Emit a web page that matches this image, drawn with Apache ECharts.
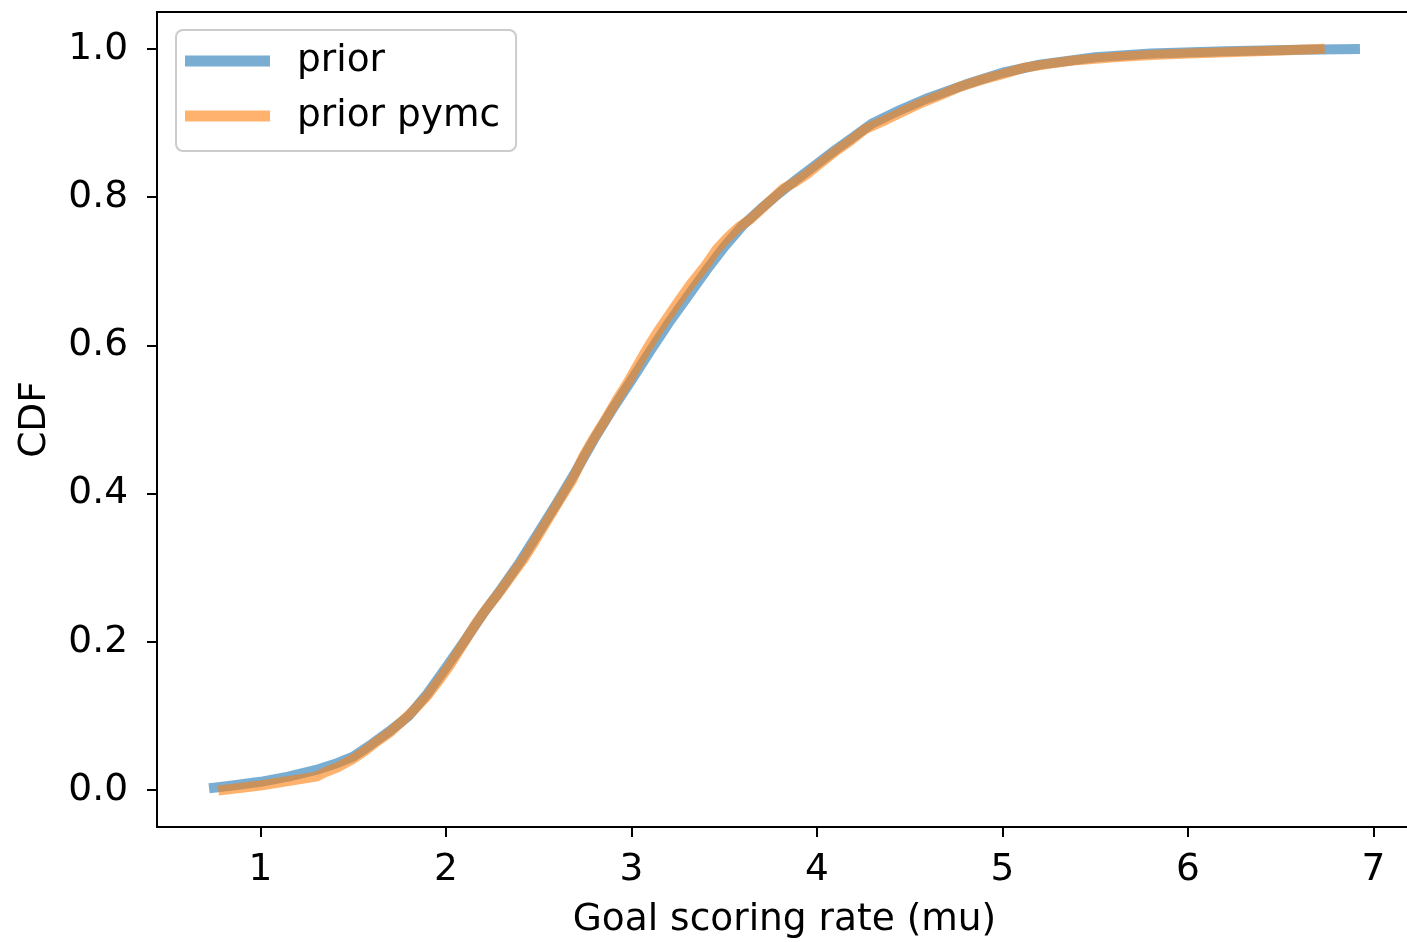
<!DOCTYPE html>
<html>
<head>
<meta charset="utf-8">
<script src="https://cdn.jsdelivr.net/npm/echarts@6/dist/echarts.min.js"></script>
<style>
  html, body { margin: 0; padding: 0; background: #ffffff; }
  #chart { width: 1407px; height: 942px; }
</style>
</head>
<body>
<div id="chart"></div>
<script>
// CDF of the goal scoring rate: analytic prior vs. PyMC prior samples
const priorX = [0.75, 0.85, 1.0, 1.15, 1.3, 1.4, 1.5, 1.6, 1.7, 1.8, 1.9, 2.0, 2.1, 2.2, 2.3, 2.4, 2.5, 2.6, 2.7, 2.8, 2.9, 3.0, 3.1, 3.2, 3.3, 3.4, 3.5, 3.6, 3.7, 3.8, 3.9, 4.0, 4.1, 4.2, 4.3, 4.45, 4.6, 4.8, 5.0, 5.2, 5.5, 5.8, 6.2, 6.6, 6.9];
const priorCdf = [0.003, 0.006, 0.011, 0.018, 0.027, 0.035, 0.045, 0.062, 0.080, 0.100, 0.130, 0.165, 0.201, 0.238, 0.272, 0.308, 0.348, 0.388, 0.430, 0.474, 0.515, 0.553, 0.592, 0.630, 0.665, 0.700, 0.733, 0.762, 0.785, 0.806, 0.826, 0.845, 0.864, 0.882, 0.900, 0.918, 0.934, 0.952, 0.968, 0.979, 0.989, 0.994, 0.997, 0.999, 1.000];

const pymcX = [0.80, 0.9, 1.0, 1.1, 1.2, 1.3, 1.35, 1.42, 1.5, 1.56, 1.62, 1.7, 1.76, 1.82, 1.9, 1.96, 2.02, 2.1, 2.16, 2.22, 2.28, 2.35, 2.42, 2.48, 2.55, 2.62, 2.68, 2.74, 2.8, 2.86, 2.92, 2.98, 3.03, 3.08, 3.14, 3.2, 3.26, 3.32, 3.4, 3.46, 3.52, 3.58, 3.64, 3.7, 3.76, 3.82, 3.88, 3.95, 4.02, 4.1, 4.18, 4.26, 4.35, 4.45, 4.55, 4.65, 4.76, 4.88, 5.0, 5.12, 5.25, 5.4, 5.6, 5.8, 6.0, 6.25, 6.5, 6.71];
const pymcCdf = [0.000, 0.003, 0.006, 0.010, 0.014, 0.018, 0.024, 0.031, 0.042, 0.052, 0.064, 0.078, 0.092, 0.106, 0.127, 0.147, 0.168, 0.200, 0.224, 0.245, 0.264, 0.288, 0.312, 0.336, 0.365, 0.394, 0.418, 0.450, 0.476, 0.500, 0.526, 0.550, 0.572, 0.594, 0.618, 0.640, 0.662, 0.683, 0.708, 0.730, 0.746, 0.760, 0.770, 0.784, 0.798, 0.812, 0.820, 0.832, 0.846, 0.862, 0.876, 0.892, 0.902, 0.914, 0.926, 0.936, 0.948, 0.958, 0.966, 0.975, 0.980, 0.985, 0.989, 0.992, 0.994, 0.996, 0.998, 1.000];

const xTicks = [1, 2, 3, 4, 5, 6, 7];
const yTicks = [0, 0.2, 0.4, 0.6, 0.8, 1.0];

const seriesNames = ['prior', 'prior pymc'];
const blue = 'rgba(31,119,180,0.6)';
const orange = 'rgba(255,127,14,0.6)';

const FONT = 'DejaVu Sans';
const FS = 37.5;

const zip = (xs, ys) => xs.map((x, i) => [x, ys[i]]);

const chart = echarts.init(document.getElementById('chart'), null, { renderer: 'canvas' });
chart.setOption({
  animation: false,
  backgroundColor: '#ffffff',
  grid: {
    left: 157, top: 12, width: 1255, height: 815,
    show: true, borderColor: '#000000', borderWidth: 2,
    backgroundColor: 'transparent',
    containLabel: false,
    outerBoundsMode: 'none'
  },
  legend: {
    orient: 'vertical',
    left: 176, top: 30,
    icon: 'rect',
    itemWidth: 85, itemHeight: 11,
    itemGap: 17,
    padding: [12, 16, 16, 9],
    backgroundColor: 'rgba(255,255,255,0.8)',
    borderColor: '#cccccc', borderWidth: 2, borderRadius: 7,
    textStyle: { fontFamily: FONT, fontSize: FS, color: '#000000', padding: [0, 0, 0, 22] },
    data: seriesNames
  },
  xAxis: {
    type: 'value',
    min: 0.4425, max: 7.2075,
    name: 'Goal scoring rate (mu)',
    nameLocation: 'middle',
    nameGap: 74,
    nameTextStyle: { fontFamily: FONT, fontSize: FS, color: '#000000' },
    axisLine: { show: false, onZero: false },
    axisTick: { show: true, inside: false, length: 10, lineStyle: { color: '#000000', width: 2 }, customValues: xTicks },
    axisLabel: { fontFamily: FONT, fontSize: FS, color: '#000000', margin: 24, customValues: xTicks },
    splitLine: { show: false }
  },
  yAxis: {
    type: 'value',
    min: -0.05, max: 1.05,
    name: 'CDF',
    nameLocation: 'middle',
    nameGap: 103,
    nameRotate: 90,
    nameTextStyle: { fontFamily: FONT, fontSize: FS, color: '#000000' },
    axisLine: { show: false, onZero: false },
    axisTick: { show: true, inside: false, length: 10, lineStyle: { color: '#000000', width: 2 }, customValues: yTicks },
    axisLabel: { fontFamily: FONT, fontSize: FS, color: '#000000', margin: 29, customValues: yTicks,
      formatter: v => v.toFixed(1) },
    splitLine: { show: false }
  },
  series: [
    {
      name: seriesNames[0], type: 'line', data: zip(priorX, priorCdf),
      showSymbol: false, symbol: 'none', smooth: false,
      lineStyle: { color: blue, width: 10, cap: 'square', join: 'round' },
      itemStyle: { color: blue }
    },
    {
      name: seriesNames[1], type: 'line', data: zip(pymcX, pymcCdf),
      showSymbol: false, symbol: 'none', smooth: false,
      lineStyle: { color: orange, width: 10, cap: 'square', join: 'round' },
      itemStyle: { color: orange }
    }
  ]
});
</script>
</body>
</html>
